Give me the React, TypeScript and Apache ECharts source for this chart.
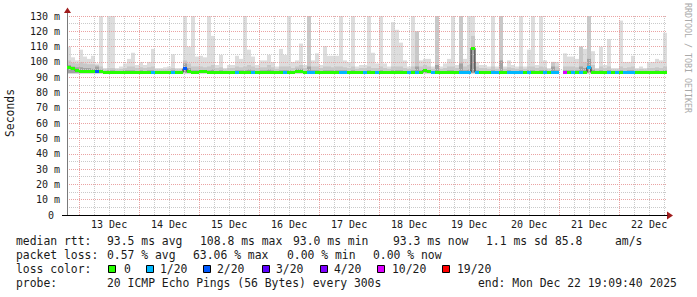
import { useEffect, useRef } from "react";
import * as echarts from "echarts";

// ---------- data ----------
// time axis: hours since 12 Dec 00:00
const START_HOUR = 19 + 9 / 60 + 40 / 3600; // 12 Dec 19:09:40
const SPAN_HOURS = 240;
const DAY_LABELS = ["13 Dec", "14 Dec", "15 Dec", "16 Dec", "17 Dec", "18 Dec", "19 Dec", "20 Dec", "21 Dec", "22 Dec"];
const FIRST_LABEL_HOUR = 36; // 13 Dec 12:00

const SMOKE_FLOOR = 92.6;
const smokeMax: (number | null)[] = [
  110, 103, 101, 108, 103.5, 102, 104, 99, 130, 96,
  130, 130, 96, 97, 99, 102, 106, 98, 100, 98,
  100, 108.5, 96, 96, 96.5, 97, 105, 96, 96, 130,
  110, 130, 103.5, 104, 103, 130, 117, 98, 104.6, 96,
  98, 98, 104, 102, 130, 108, 103.5, 98, 101, 101,
  104.6, 100, 97, 108.5, 104.6, 130, 100, 101, 112, 98,
  130, 101, 105.6, 98, 110.4, 104, 104, 104, 130, 101,
  100, 130, 97, 98, 98, 130, 106, 99, 130, 99,
  97, 126, 121, 112.6, 101, 97, 130, 120, 101, 102,
  102, 97, 130, 97, 99, 102, 130, 98, 130, 102,
  130, 130, 100, 98, 98, 97, 130, 97, 130, 97,
  101, 98, 97, 130, 97, 108, 130, 98, 130, 101,
  96, 100, 100, null, 105.6, 103.5, 103.5, 102, 110, 108.5,
  130, 107, 96, 110, 98, 115, 96, 96, 127, 100,
  100, 104, 96, 97, 96, 100, 100, 102, 101, 119,
];
const smokeMid: (number | null)[] = [
  101, 99.5, 99, 100, 99, 98.5, 98.5, 98, 97, 95,
  96, 96, 95, 95.5, 96, 97, 97, 96, 96.5, 96,
  96.5, 97, 95, 95, 95, 95.5, 96, 95, 95, 101,
  99, 97, 97, 97, 96.5, 97, 98, 96, 96.5, 95,
  96, 96, 97, 96.5, 97, 98, 97, 96, 96.5, 96.5,
  98, 96.5, 95.5, 97, 97, 97, 96, 97, 98, 96,
  130, 97, 97, 96, 97, 97, 96.5, 97, 97, 96.5,
  96, 97, 95.5, 96, 96, 97, 96, 96, 97, 96,
  95.5, 97, 97, 97, 96, 95.5, 97, 120, 97, 98,
  97, 95.5, 130, 95.5, 96, 97, 97, 96, 130, 97,
  98, 117, 97, 96, 96, 95.5, 97, 95.5, 130, 95.5,
  96.5, 96, 95.5, 97, 95.5, 97, 97, 96, 97, 96.5,
  95, 100, 97, null, 97, 97, 97, 96.5, 110, 100,
  130, 98, 95.5, 97, 96, 97, 95, 95, 97, 96,
  96.5, 97, 95, 95.5, 95, 96, 96, 96.5, 96, 97,
];
const smokeDark: (number | null)[] = [
  98, 97, 96.5, 96.5, 96, 96, 95.5, 97, 95, 94,
  94.5, 94.5, 94, 94, 94.5, 94.5, 94.5, 94, 94.5, 94,
  94.5, 94.5, 94, 94, 94, 94, 94.5, 94, 94, 99,
  96, 94.5, 94.5, 94.5, 94.5, 94.5, 95, 94, 94.5, 94,
  94, 94, 94.5, 94.5, 94.5, 95, 94.5, 94, 94.5, 94.5,
  95, 94.5, 94, 94.5, 94.5, 94.5, 94, 95.5, 95.5, 94,
  97, 94.5, 94.5, 94, 94.5, 94.5, 94.5, 94.5, 94.5, 94.5,
  94, 94.5, 94, 94, 94, 94.5, 94, 94, 94.5, 94,
  94, 94.5, 94.5, 94.5, 94, 94, 94.5, 97, 94.5, 95.5,
  94.5, 94, 98, 94, 94, 94.5, 94.5, 94, 99, 94.5,
  95, 109, 94.5, 94, 94, 94, 94.5, 94, 101, 94,
  94.5, 94, 94, 94.5, 94, 94.5, 94.5, 94, 94.5, 94.5,
  94, 97, 94.5, null, 94.5, 94.5, 94.5, 94.5, 97, 96,
  102, 95, 94, 94.5, 94, 94.5, 94, 94, 94.5, 94,
  94.5, 94.5, 94, 94, 94, 94, 94, 94.5, 94, 94.5,
];
const medianRtt: (number | null)[] = [
  96.4, 95.4, 94.3, 93.8, 93.6, 93.6, 93.6, 93.8, 93.5, 93.3,
  93.2, 93.2, 93.2, 93.2, 93.2, 93.3, 93.3, 93.2, 93.2, 93.2,
  93.3, 93.3, 93.2, 93.2, 93.2, 93.4, 93.4, 93.4, 93.4, 95.6,
  93.6, 93.4, 93.4, 93.5, 93.5, 93.4, 93.4, 93.4, 93.4, 93.3,
  93.3, 93.3, 93.3, 93.4, 93.4, 93.4, 93.3, 93.3, 93.3, 93.4,
  93.4, 93.4, 93.3, 93.3, 93.3, 93.3, 93.3, 93.5, 93.5, 93.3,
  93.3, 93.3, 93.3, 93.4, 93.4, 93.4, 93.3, 93.3, 93.3, 93.3,
  93.4, 93.4, 93.4, 93.4, 93.3, 93.3, 93.3, 93.3, 93.3, 93.3,
  93.3, 93.3, 93.3, 93.3, 93.3, 93.3, 93.3, 93.3, 93.3, 94.6,
  93.6, 93.3, 93.3, 93.3, 93.3, 93.3, 93.3, 93.3, 93.3, 93.3,
  93.3, 109, 93.3, 93.3, 93.3, 93.3, 93.3, 93.3, 93.4, 93.3,
  93.3, 93.3, 93.3, 93.3, 93.3, 93.3, 93.3, 93.3, 93.3, 93.3,
  93.3, 93.3, 93.3, null, 93.1, 93.3, 93.3, 93.3, 93.3, 93.3,
  96.5, 93.3, 93.3, 93.3, 93.3, 93.3, 93.3, 93.3, 93.3, 93.3,
  93.3, 93.3, 93.3, 93.3, 93.3, 93.3, 93.3, 93.3, 93.3, 93.3,
];
const lostPings: number[] = [
  0, 0, 0, 0, 0, 0, 0, 2, 0, 0,
  0, 0, 0, 0, 0, 0, 0, 0, 0, 0,
  0, 1, 0, 0, 0, 0, 1, 0, 0, 2,
  0, 0, 0, 0, 0, 0, 0, 0, 0, 0,
  0, 0, 1, 0, 0, 0, 1, 0, 0, 0,
  0, 0, 0, 0, 1, 0, 0, 0, 0, 0,
  1, 1, 0, 0, 0, 0, 0, 0, 1, 1,
  0, 0, 0, 0, 1, 0, 0, 1, 0, 0,
  0, 0, 0, 0, 0, 1, 0, 1, 0, 0,
  0, 1, 0, 0, 0, 0, 0, 0, 1, 1,
  1, 0, 1, 0, 0, 0, 1, 1, 0, 0,
  1, 1, 1, 1, 0, 1, 0, 0, 0, 1,
  0, 1, 1, 0, 10, 0, 1, 0, 1, 0,
  1, 0, 0, 0, 0, 1, 0, 1, 0, 1,
  1, 1, 0, 0, 0, 0, 0, 0, 0, 0,
];

const LOSS_LEVELS = [0, 1, 2, 3, 4, 10, 19];
const LOSS_LABELS = ["0", "1/20", "2/20", "3/20", "4/20", "10/20", "19/20"];
const LOSS_COLORS = ["#26ff00", "#00b8ff", "#0059ff", "#5e00ff", "#7e00ff", "#dd00ff", "#ff0000"];

const RTT_STATS = ["93.5 ms avg", "108.8 ms max", "93.0 ms min", "93.3 ms now", "1.1 ms sd", "85.8", "am/s"];
const LOSS_STATS = ["0.57 % avg", "63.06 % max", "0.00 % min", "0.00 % now"];
const PROBE_TEXT = "20 ICMP Echo Pings (56 Bytes) every 300s";
const END_TEXT = "end: Mon Dec 22 19:09:40 2025";

// ---------- style ----------
const FONT = '"DejaVu Sans Mono", monospace';
const TXT = "#1a1a1a";
const MGRID = "#eaa3a3";
const GRID = "#cacaca";
const ARROW = "#a01c1c";
const SMOKE_LIGHT = "#dddddd";
const SMOKE_MID = "#c8c8c8";
const SMOKE_DARK = "#a2a2a2";

const COL_H = SPAN_HOURS / smokeMax.length;
const colT = (i: number) => START_HOUR + (i + 0.5) * COL_H;

function lossColor(n: number) {
  let idx = 0;
  for (let k = 0; k < LOSS_LEVELS.length; k++) if (n >= LOSS_LEVELS[k]) idx = k;
  return LOSS_COLORS[idx];
}

function buildOption() {
  const endHour = START_HOUR + SPAN_HOURS;
  const gridLines: number[][] = [];
  for (let h = 24; h < endHour; h += 6) gridLines.push([h, h % 24 === 0 ? 1 : 0]);
  const noonHours = DAY_LABELS.map((_, i) => FIRST_LABEL_HOUR + 24 * i);

  const smokeData = smokeMax.map((v, i) => [colT(i), SMOKE_FLOOR, smokeDark[i], smokeMid[i], v]);
  const medianData = medianRtt.map((m, i) => [colT(i), m]);
  const lossData = medianRtt.map((m, i) => [colT(i), m, lostPings[i]]);

  const bad = (v: any) => v == null || Number.isNaN(v as number);

  const legendTexts: any[] = [];
  const t = (x: number, y: number, text: string) =>
    legendTexts.push({
      type: "text", x, y, silent: true,
      style: { text, fontFamily: FONT, fontSize: 11.4, fill: TXT, verticalAlign: "middle", align: "left" },
    });
  const RTT_X = [107, 200, 293, 393, 486, 555, 615];
  const LOSS_X = [107, 193, 287, 373];
  const SQ_X = [108, 146, 203, 262, 320, 377, 442];
  const SQ_LABEL_X = [124, 160, 217, 276, 334, 392, 457];
  t(16, 241, "median rtt:");
  RTT_STATS.forEach((s, i) => t(RTT_X[i], 241, s));
  t(16, 255, "packet loss:");
  LOSS_STATS.forEach((s, i) => t(LOSS_X[i], 255, s));
  t(16, 269, "loss color:");
  LOSS_LABELS.forEach((s, i) => {
    legendTexts.push({
      type: "rect", silent: true,
      shape: { x: SQ_X[i] + 0.5, y: 265.5, width: 7, height: 7 },
      style: { fill: LOSS_COLORS[i], stroke: "#000", lineWidth: 1 },
    });
    t(SQ_LABEL_X[i], 269, s);
  });
  t(16, 283, "probe:");
  t(107, 283, PROBE_TEXT);
  t(478, 283, END_TEXT);

  return {
    animation: false,
    backgroundColor: "#ffffff",
    grid: { left: 67, right: 30, top: 16, bottom: 82, containLabel: false, outerBoundsMode: "none" },
    xAxis: {
      type: "value",
      min: START_HOUR,
      max: endHour,
      z: 4,
      axisLine: { show: true, lineStyle: { color: "#000", width: 1 } },
      axisTick: { show: false },
      splitLine: { show: false },
      axisLabel: {
        customValues: noonHours,
        margin: 4,
        fontFamily: FONT,
        fontSize: 10,
        color: TXT,
        formatter: (v: number) => DAY_LABELS[Math.round((v - FIRST_LABEL_HOUR) / 24)] ?? "",
      },
    },
    yAxis: {
      type: "value",
      min: 0,
      max: 130,
      interval: 10,
      z: 3,
      axisLine: { show: true, lineStyle: { color: "#7a7a7a", width: 1 } },
      axisTick: { show: false },
      axisLabel: {
        margin: 7,
        fontFamily: FONT,
        fontSize: 10,
        color: TXT,
        formatter: (v: number) => (v === 0 ? "{z|0}" : `${v} m`),
        rich: { z: { fontFamily: FONT, fontSize: 10, color: TXT, padding: [0, 6, 0, 0] } },
      },
      splitLine: { show: true, lineStyle: { color: MGRID, type: [1, 1], width: 1 } },
      minorTick: { show: false, splitNumber: 2 },
      minorSplitLine: { show: true, lineStyle: { color: GRID, type: [1, 1], width: 1 } },
    },
    series: [
      {
        type: "custom",
        name: "smoke",
        z: 1,
        clip: true,
        silent: true,
        encode: { x: 0, y: [1, 4] },
        data: smokeData,
        renderItem: (_p: any, api: any) => {
          const tt = api.value(0);
          const top = api.value(4);
          if (bad(top)) return null;
          const floor = api.value(1), dark = api.value(2), mid = api.value(3);
          const xa = Math.round(api.coord([tt - COL_H / 2, 0])[0]);
          const xb = Math.round(api.coord([tt + COL_H / 2, 0])[0]);
          const yf = api.coord([tt, floor])[1];
          const band = (hi: number, fill: string) => {
            const yh = api.coord([tt, hi])[1];
            return { type: "rect", shape: { x: xa, y: yh, width: xb - xa, height: yf - yh }, style: { fill } };
          };
          return {
            type: "group",
            children: [band(top, SMOKE_LIGHT), band(mid, SMOKE_MID), band(dark, SMOKE_DARK)],
          };
        },
      },
      {
        type: "custom",
        name: "vgrid",
        z: 3,
        silent: true,
        encode: { x: 0, y: 1 },
        data: gridLines,
        renderItem: (p: any, api: any) => {
          const h = api.value(0);
          const major = api.value(1) === 1;
          const x = Math.round(api.coord([h, 0])[0]) + 0.5;
          const cs = p.coordSys;
          return {
            type: "line",
            shape: { x1: x, y1: cs.y, x2: x, y2: cs.y + cs.height },
            style: { stroke: major ? MGRID : GRID, lineWidth: 1, lineDash: [1, 1] },
          };
        },
      },
      {
        type: "line",
        name: "median",
        z: 5,
        step: "middle",
        showSymbol: false,
        symbol: "none",
        silent: true,
        connectNulls: false,
        data: medianData,
        lineStyle: { color: "#202020", width: 1 },
      },
      {
        type: "custom",
        name: "loss",
        z: 6,
        silent: true,
        encode: { x: 0, y: 1 },
        data: lossData,
        renderItem: (_p: any, api: any) => {
          const tt = api.value(0);
          const m = api.value(1);
          if (bad(m)) return null;
          const xa = Math.round(api.coord([tt - COL_H / 2, m])[0]);
          const xb = Math.round(api.coord([tt + COL_H / 2, m])[0]);
          const yc = api.coord([tt, m])[1];
          return {
            type: "rect",
            shape: { x: xa, y: Math.round(yc - 1.5), width: xb - xa, height: 3 },
            style: { fill: lossColor(api.value(2)) },
          };
        },
      },
    ],
    graphic: [
      {
        type: "text", x: 10, y: 113, rotation: Math.PI / 2, silent: true,
        style: { text: "Seconds", fontFamily: FONT, fontSize: 11.4, fill: TXT, align: "center", verticalAlign: "middle" },
      },
      {
        type: "text", x: 688, y: 58, rotation: -Math.PI / 2, silent: true,
        style: { text: "RRDTOOL / TOBI OETIKER", fontFamily: FONT, fontSize: 8.3, fill: "#a9a9a9", align: "center", verticalAlign: "middle" },
      },
      { type: "line", silent: true, shape: { x1: 67.5, y1: 12, x2: 67.5, y2: 16 }, style: { stroke: "#7a7a7a", lineWidth: 1 } },
      { type: "polygon", silent: true, shape: { points: [[64, 13], [71, 13], [67.5, 7.5]] }, style: { fill: ARROW } },
      { type: "line", silent: true, shape: { x1: 62, y1: 215.5, x2: 67, y2: 215.5 }, style: { stroke: "#000", lineWidth: 1 } },
      { type: "polygon", silent: true, shape: { points: [[667, 211.5], [667, 219.5], [673, 215.5]] }, style: { fill: ARROW } },
      ...legendTexts,
    ],
  };
}

export default function App() {
  const ref = useRef<HTMLDivElement>(null);
  useEffect(() => {
    document.body.style.margin = "0";
    if (!ref.current) return;
    const chart = echarts.init(ref.current, null, { renderer: "svg" });
    chart.setOption(buildOption() as any);
    return () => chart.dispose();
  }, []);
  return <div ref={ref} style={{ width: 697, height: 297 }} />;
}
